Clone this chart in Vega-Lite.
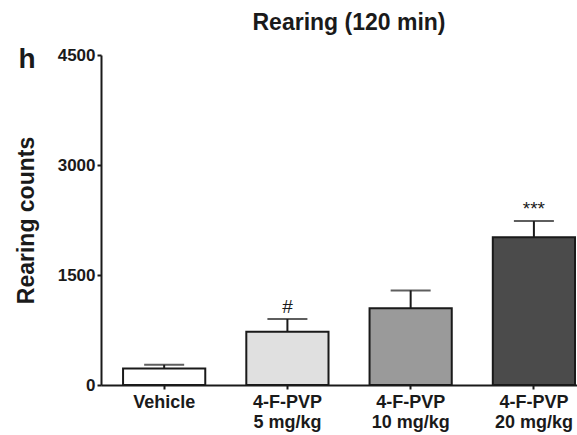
{
  "$schema": "https://vega.github.io/schema/vega-lite/v6.json",
  "autosize": "none",
  "width": 476,
  "height": 330,
  "padding": {"left": 101, "top": 55, "right": 0, "bottom": 50},
  "background": "white",
  "config": {
    "font": "Liberation Sans",
    "view": {"stroke": null},
    "axis": {"grid": false},
    "text": {"font": "Liberation Sans"}
  },
  "title": {
    "text": "Rearing (120 min)",
    "anchor": "middle",
    "frame": "group",
    "font": "Liberation Sans",
    "fontSize": 23,
    "fontWeight": "bold",
    "color": "#1a1a1a",
    "offset": 10,
    "dx": 10
  },
  "data": {
    "values": [
      {"group": "Vehicle", "mean": 225, "err": 50, "top": 275, "sig": ""},
      {"group": "4-F-PVP|5 mg/kg", "mean": 725, "err": 175, "top": 900, "sig": "#"},
      {"group": "4-F-PVP|10 mg/kg", "mean": 1045, "err": 245, "top": 1290, "sig": ""},
      {"group": "4-F-PVP|20 mg/kg", "mean": 2015, "err": 220, "top": 2235, "sig": "***"}
    ]
  },
  "encoding": {
    "x": {
      "field": "group",
      "type": "nominal",
      "sort": null,
      "scale": {"paddingInner": 0.333, "paddingOuter": 0.0976, "align": 0.917},
      "axis": {
        "title": "h",
        "titleX": -83,
        "titleY": -318,
        "titleAngle": 0,
        "titleAlign": "left",
        "titleBaseline": "alphabetic",
        "titleFontSize": 28,
        "titleFontWeight": "bold",
        "titleColor": "#1a1a1a",
        "labelExpr": "split(datum.value, '|')",
        "labelAngle": 0,
        "labelFontSize": 18,
        "labelFontWeight": "bold",
        "labelColor": "#1a1a1a",
        "labelLineHeight": 20,
        "labelPadding": 4,
        "domainColor": "#1a1a1a",
        "domainWidth": 2,
        "tickColor": "#1a1a1a",
        "tickWidth": 2,
        "tickSize": 4
      }
    }
  },
  "layer": [
    {
      "mark": {"type": "rule", "color": "#1a1a1a", "strokeWidth": 2},
      "encoding": {
        "y": {"field": "mean", "type": "quantitative"},
        "y2": {"field": "top"}
      }
    },
    {
      "mark": {"type": "tick", "color": "#1a1a1a", "thickness": 2, "size": 40, "orient": "horizontal"},
      "encoding": {
        "y": {"field": "top", "type": "quantitative"}
      }
    },
    {
      "mark": {"type": "bar", "stroke": "#1a1a1a", "strokeWidth": 2},
      "encoding": {
        "y": {
          "field": "mean",
          "type": "quantitative",
          "scale": {"domain": [0, 4500], "nice": false},
          "axis": {
            "title": "Rearing counts",
            "values": [0, 1500, 3000, 4500],
            "format": "d",
            "titleFontSize": 23,
            "titleFontWeight": "bold",
            "titleColor": "#1a1a1a",
            "titlePadding": 19,
            "labelFontSize": 17,
            "labelFontWeight": "bold",
            "labelColor": "#1a1a1a",
            "labelPadding": 2,
            "domainColor": "#1a1a1a",
            "domainWidth": 2,
            "tickColor": "#1a1a1a",
            "tickWidth": 2,
            "tickSize": 4
          }
        },
        "fill": {
          "field": "group",
          "type": "nominal",
          "scale": {
            "domain": ["Vehicle", "4-F-PVP|5 mg/kg", "4-F-PVP|10 mg/kg", "4-F-PVP|20 mg/kg"],
            "range": ["#ffffff", "#e0e0e0", "#9a9a9a", "#4b4b4b"]
          },
          "legend": null
        }
      }
    },
    {
      "mark": {"type": "text", "font": "Liberation Sans", "fontSize": 19, "color": "#1a1a1a", "baseline": "alphabetic", "dy": -6},
      "encoding": {
        "y": {"field": "top", "type": "quantitative"},
        "text": {"field": "sig"}
      }
    }
  ]
}
